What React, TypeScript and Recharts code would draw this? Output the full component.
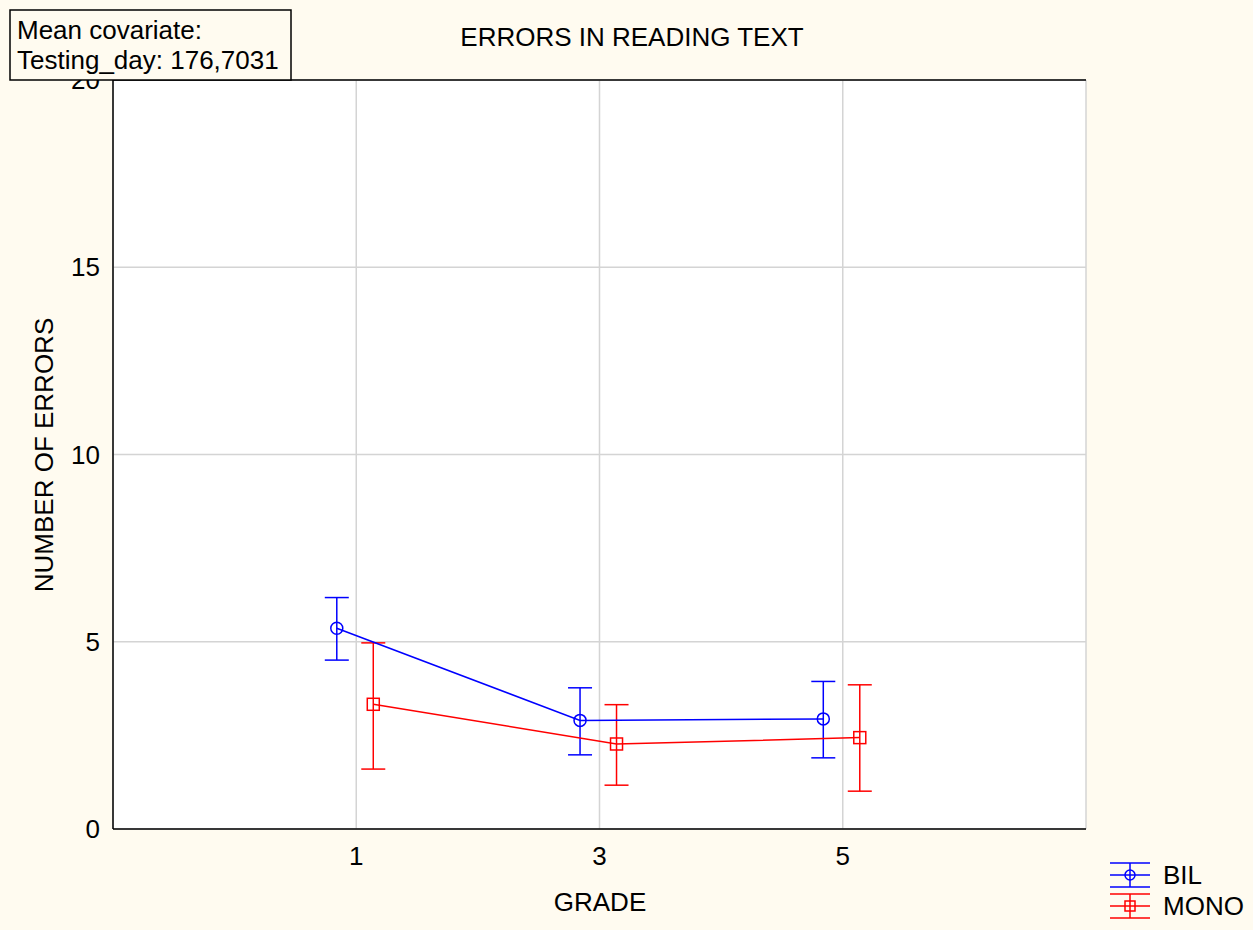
import {
  ComposedChart, Scatter, XAxis, YAxis, CartesianGrid, ErrorBar, Legend,
} from 'recharts'

// grade levels on the x axis
const grades = [1, 3, 5]
const xTicks = [1, 3, 5]
const yTicks = [0, 5, 10, 15, 20]
const rightTicks = [0, 2.857, 5.714, 8.571, 11.429, 14.286, 17.143, 20]

// BIL group: means and interval bounds
const bilMean = [5.36, 2.9, 2.94]
const bilLow = [4.51, 1.98, 1.9]
const bilHigh = [6.18, 3.77, 3.94]

// MONO group
const monoMean = [3.33, 2.27, 2.44]
const monoLow = [1.6, 1.17, 1.01]
const monoHigh = [4.97, 3.32, 3.85]

const BLUE = '#0000ff'
const RED = '#ff0000'
const CREAM = '#fffbf0'
const FONT = '"Liberation Sans", Arial, sans-serif'
const FS = 26

// small horizontal dodge so the two groups don't overlap
const BIL_SHIFT = -0.16
const MONO_SHIFT = 0.14

const build = (mean: number[], low: number[], high: number[], shift: number) =>
  grades.map((g, i) => ({
    x: g + shift,
    y: mean[i],
    err: [mean[i] - low[i], high[i] - mean[i]],
  }))

const bilData = build(bilMean, bilLow, bilHigh, BIL_SHIFT)
const monoData = build(monoMean, monoLow, monoHigh, MONO_SHIFT)

const CircleDot = (p: any) => (
  <circle cx={p.cx} cy={p.cy} r={6} fill="none" stroke={BLUE} strokeWidth={1.5} />
)
const SquareDot = (p: any) => (
  <rect x={p.cx - 6} y={p.cy - 6} width={12} height={12} fill="none" stroke={RED} strokeWidth={1.5} />
)

function LegendSymbol({ color, kind }: { color: string; kind: string }) {
  return (
    <svg width={44} height={28} style={{ display: 'block' }}>
      <line x1={0} x2={40} y1={2} y2={2} stroke={color} strokeWidth={1.5} />
      <line x1={0} x2={40} y1={14} y2={14} stroke={color} strokeWidth={1.5} />
      <line x1={0} x2={40} y1={26} y2={26} stroke={color} strokeWidth={1.5} />
      <line x1={20} x2={20} y1={2} y2={26} stroke={color} strokeWidth={1.5} />
      {kind === 'circle'
        ? <circle cx={20} cy={14} r={5} fill="none" stroke={color} strokeWidth={1.5} />
        : <rect x={15} y={9} width={10} height={10} fill="none" stroke={color} strokeWidth={1.5} />}
    </svg>
  )
}

const legendItems = [
  { name: 'BIL', color: BLUE, kind: 'circle' },
  { name: 'MONO', color: RED, kind: 'square' },
]

function LegendContent() {
  return (
    <div style={{ fontFamily: FONT, fontSize: FS, color: '#000' }}>
      {legendItems.map(it => (
        <div key={it.name} style={{ display: 'flex', alignItems: 'center', height: 31 }}>
          <LegendSymbol color={it.color} kind={it.kind} />
          <span style={{ marginLeft: 9, lineHeight: '28px' }}>{it.name}</span>
        </div>
      ))}
    </div>
  )
}

export default function App() {
  return (
    <div style={{
      position: 'absolute', left: 0, top: 0, width: 1253, height: 930,
      background: CREAM, fontFamily: FONT,
    }}>
      <ComposedChart
        width={1253}
        height={930}
        margin={{ top: 80, right: 167, bottom: 41, left: 13 }}
      >
        <CartesianGrid stroke="#d4d4d4" strokeWidth={1.5} fill="#ffffff" fillOpacity={1} />
        <XAxis
          type="number"
          dataKey="x"
          domain={[-1, 7]}
          ticks={xTicks}
          interval={0}
          allowDataOverflow
          height={60}
          tickLine={false}
          tickSize={0}
          tickMargin={18}
          axisLine={{ stroke: '#000', strokeWidth: 1.5 }}
          tick={{ fontSize: FS, fill: '#000', fontFamily: FONT }}
        />
        <XAxis
          xAxisId="bottomIn"
          type="number"
          domain={[-1, 7]}
          ticks={xTicks}
          interval={0}
          allowDataOverflow
          mirror
          tick={false}
          tickSize={5}
          tickLine={{ stroke: '#000', strokeWidth: 1.5 }}
          axisLine={false}
        />
        <XAxis
          xAxisId="top"
          orientation="top"
          type="number"
          domain={[-1, 7]}
          allowDataOverflow
          mirror
          tick={false}
          tickLine={false}
          axisLine={{ stroke: '#000', strokeWidth: 1.5 }}
        />
        <YAxis
          type="number"
          dataKey="y"
          domain={[0, 20]}
          ticks={yTicks}
          interval={0}
          allowDataOverflow
          width={100}
          tickLine={false}
          tickSize={0}
          tickMargin={13}
          axisLine={{ stroke: '#000', strokeWidth: 1.5 }}
          tick={{ fontSize: FS, fill: '#000', fontFamily: FONT }}
        />
        <YAxis
          yAxisId="leftIn"
          type="number"
          domain={[0, 20]}
          ticks={yTicks}
          interval={0}
          allowDataOverflow
          mirror
          tick={false}
          tickSize={5}
          tickLine={{ stroke: '#000', strokeWidth: 1.5 }}
          axisLine={false}
        />
        <YAxis
          yAxisId="right"
          orientation="right"
          type="number"
          domain={[0, 20]}
          ticks={rightTicks}
          interval={0}
          allowDataOverflow
          mirror
          width={0}
          tick={false}
          tickSize={5}
          tickLine={{ stroke: '#000', strokeWidth: 1.5 }}
          axisLine={{ stroke: '#000', strokeWidth: 1.5 }}
        />
        <Scatter
          name="BIL"
          data={bilData}
          fill={BLUE}
          line={{ stroke: BLUE, strokeWidth: 1.5 }}
          shape={CircleDot}
          isAnimationActive={false}
        >
          <ErrorBar dataKey="err" direction="y" width={12} stroke={BLUE} strokeWidth={1.5} />
        </Scatter>
        <Scatter
          name="MONO"
          data={monoData}
          fill={RED}
          line={{ stroke: RED, strokeWidth: 1.5 }}
          shape={SquareDot}
          isAnimationActive={false}
        >
          <ErrorBar dataKey="err" direction="y" width={12} stroke={RED} strokeWidth={1.5} />
        </Scatter>
        <Legend
          layout="vertical"
          align="center"
          verticalAlign="middle"
          content={LegendContent}
          wrapperStyle={{ position: 'absolute', left: 1110, top: 859, width: 140 }}
        />
      </ComposedChart>

      <svg
        width={1253}
        height={930}
        style={{ position: 'absolute', left: 0, top: 0, pointerEvents: 'none' }}
        fontFamily={FONT}
      >
        <text x={632} y={46} textAnchor="middle" fontSize={FS} fill="#000">
          ERRORS IN READING TEXT
        </text>
        <rect x={10} y={10} width={281} height={70} fill={CREAM} stroke="#000" strokeWidth={1.5} />
        <text x={17} y={39} fontSize={FS} fill="#000">Mean covariate:</text>
        <text x={17} y={69} fontSize={FS} fill="#000">Testing_day: 176,7031</text>
        <text x={600} y={911} textAnchor="middle" fontSize={FS} fill="#000">GRADE</text>
        <text
          transform="translate(53,455) rotate(-90)"
          textAnchor="middle"
          fontSize={FS}
          fill="#000"
        >
          NUMBER OF ERRORS
        </text>
      </svg>
    </div>
  )
}
